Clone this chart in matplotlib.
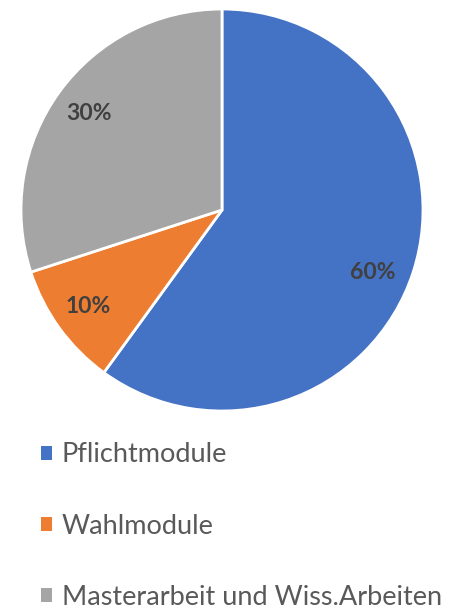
import matplotlib.pyplot as plt
from matplotlib.patches import Patch

kategorien = ["Pflichtmodule", "Wahlmodule", "Masterarbeit und Wiss.Arbeiten"]
anteile = [60, 10, 30]
farben = ["#4472C4", "#ED7D31", "#A5A5A5"]

plt.rcParams['font.family'] = ['Lato', 'DejaVu Sans']

fig = plt.figure(figsize=(4.54, 6.12), dpi=100)

# pie area: centre ~ (222, 210) px, radius ~ 201 px
r = 202
ax = fig.add_axes([(222 - r) / 454, 1 - (210 + r) / 612, 2 * r / 454, 2 * r / 612])
wedges, texts, autotexts = ax.pie(anteile, colors=farben, startangle=90, counterclock=False,
                                  autopct='%1.0f%%', pctdistance=0.82,
                                  wedgeprops=dict(edgecolor='white', linewidth=2),
                                  textprops=dict(fontsize=16.5, fontweight='bold', color='#404040'))
ax.set_xlim(-1.005, 1.005)
ax.set_ylim(-1.005, 1.005)
ax.set_aspect('equal')

# Excel puts the big label a bit lower
autotexts[0].set_position((0.75, -0.31))

handles = [Patch(facecolor=c, edgecolor='none') for c in farben]
fig.legend(handles, kategorien, loc='upper left', bbox_to_anchor=(0.09, 0.277),
           frameon=False, fontsize=19.5, labelcolor='#595959',
           handlelength=0.42, handleheight=0.42, handletextpad=0.35,
           labelspacing=1.7, borderaxespad=0, borderpad=0)

plt.savefig("out.png", dpi=100)
plt.close()
